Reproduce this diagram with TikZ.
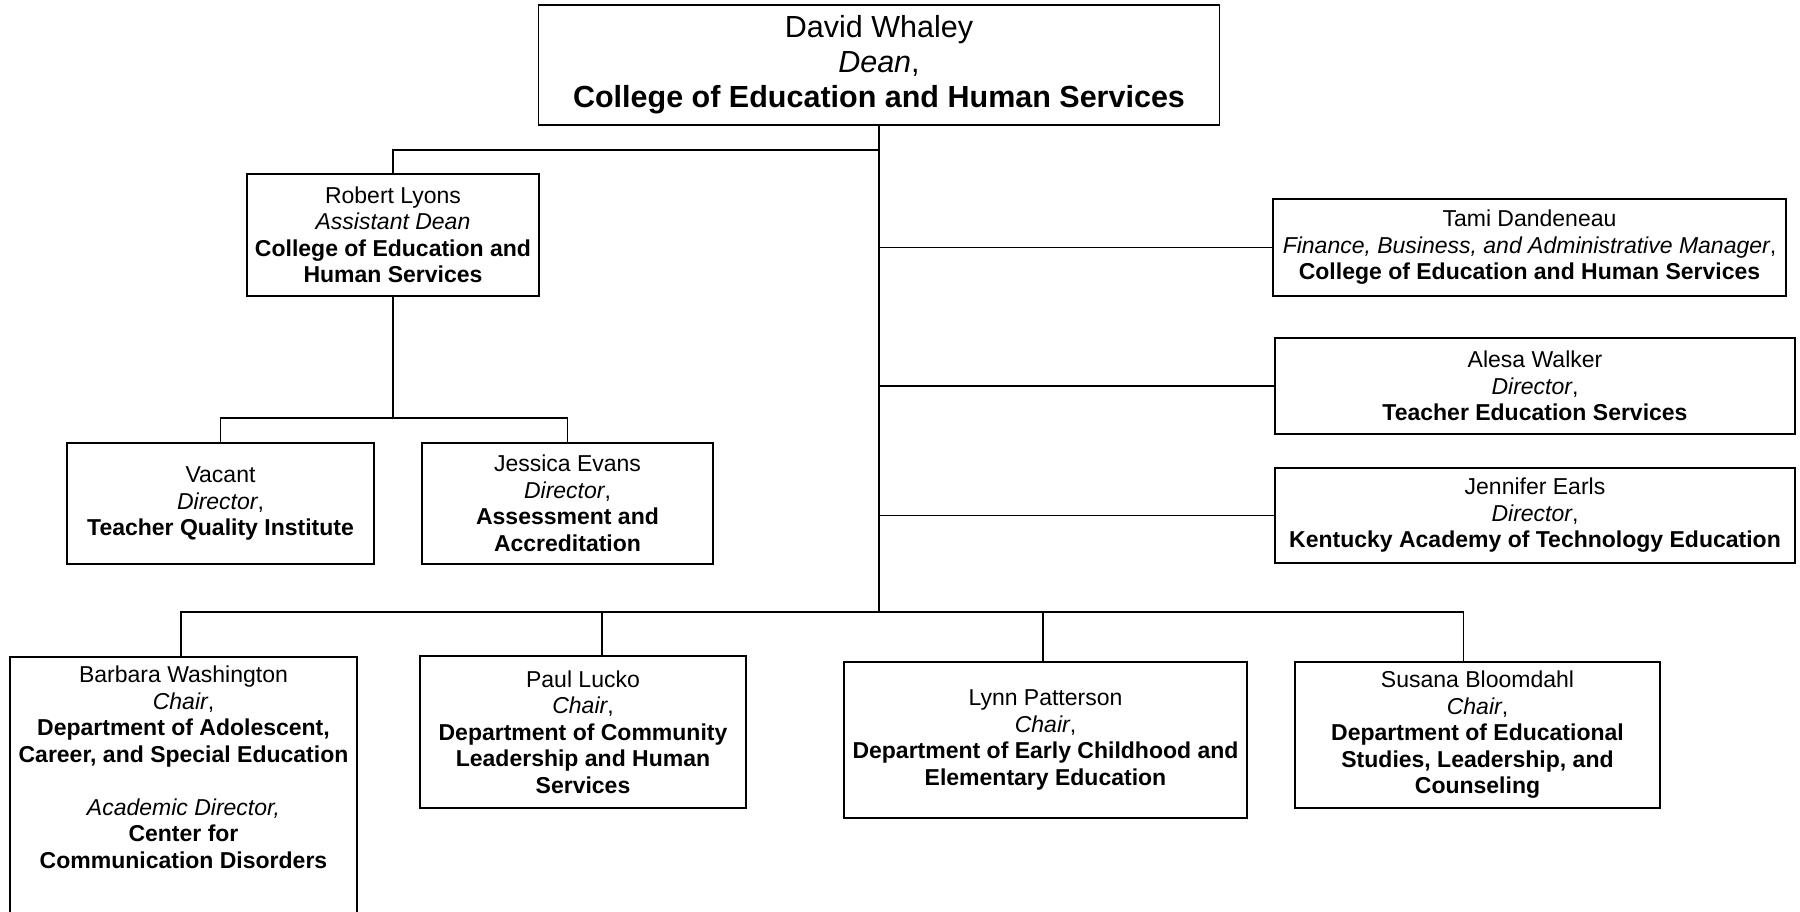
\documentclass[tikz,border=0pt]{standalone}
\usepackage{fontspec}
\setmainfont{Liberation Sans}
\begin{document}
\begin{tikzpicture}[x=1pt,y=-1pt,
  box/.style={draw, line width=1.4pt, inner sep=0pt, align=center,
    font=\fontsize{23}{26.5}\selectfont},
  deanbox/.style={box, font=\fontsize{30.5}{35}\selectfont},
  conn/.style={line width=1.5pt},
  trunk/.style={line width=2.6pt}]
\useasboundingbox (0,0) rectangle (1800,912);

% Nodes
\node[deanbox, minimum width=681pt, minimum height=120pt] (dean) at (879,65)
  {David Whaley\\\textit{Dean},\\\textbf{College of Education and Human Services}};

\node[box, minimum width=292pt, minimum height=122pt] (robert) at (393,235)
  {Robert Lyons\\\textit{Assistant Dean}\\\textbf{College of Education and}\\\textbf{Human Services}};

\node[box, minimum width=307pt, minimum height=121pt] (vacant) at (220.5,503.5)
  {Vacant\\\textit{Director},\\\textbf{Teacher Quality Institute}};

\node[box, minimum width=291pt, minimum height=121pt] (jessica) at (567.5,503.5)
  {Jessica Evans\\\textit{Director},\\\textbf{Assessment and}\\\textbf{Accreditation}};

\node[box, minimum width=513pt, minimum height=97pt] (tami) at (1529.5,247.5)
  {Tami Dandeneau\\\textit{Finance, Business, and Administrative Manager},\\\textbf{College of Education and Human Services}};

\node[box, minimum width=520pt, minimum height=96pt] (alesa) at (1535,386)
  {Alesa Walker\\\textit{Director},\\\textbf{Teacher Education Services}};

\node[box, minimum width=520pt, minimum height=95pt] (jennifer) at (1535,515.5)
  {Jennifer Earls\\\textit{Director},\\\textbf{Kentucky Academy of Technology Education}};

\node[box] (bw) at (183.5,790.5)
  {\parbox[c][267pt][t]{347pt}{\centering\vspace*{9pt}Barbara Washington\\\textit{Chair},\\\textbf{Department of Adolescent,}\\\textbf{Career, and Special Education}\\[26.5pt]\textit{Academic Director,}\\\textbf{Center for}\\\textbf{Communication Disorders}}};

\node[box, minimum width=326pt, minimum height=152pt] (paul) at (583,732)
  {Paul Lucko\\\textit{Chair},\\\textbf{Department of Community}\\\textbf{Leadership and Human}\\\textbf{Services}};

\node[box, minimum width=403pt, minimum height=156pt] (lynn) at (1045.5,740)
  {Lynn Patterson\\\textit{Chair},\\\textbf{Department of Early Childhood and}\\\textbf{Elementary Education}};

\node[box, minimum width=365pt, minimum height=146pt] (susana) at (1477.5,735)
  {Susana Bloomdahl\\\textit{Chair},\\\textbf{Department of Educational}\\\textbf{Studies, Leadership, and}\\\textbf{Counseling}};

% Junction coordinates
\coordinate (tA) at (879,150);
\coordinate (tB) at (879,612);
\coordinate (rB) at (393,418);
\coordinate (bwIn) at ([xshift=-2.5pt]bw.north);
\coordinate (paulIn) at ([xshift=19pt]paul.north);
\coordinate (lynnIn) at ([xshift=-2.5pt]lynn.north);
\coordinate (susIn) at ([xshift=-14pt]susana.north);

% Connectors
\draw[trunk] (dean.south) -- (tB);
\draw[conn] (tA) -| (robert.north);
\draw[conn] (robert.south) -- (rB);
\draw[conn] (vacant.north) |- (rB) -| (jessica.north);
\draw[conn] (tami.west -| tA) -- (tami.west);
\draw[conn] (alesa.west -| tA) -- (alesa.west);
\draw[conn] (jennifer.west -| tA) -- (jennifer.west);
\draw[conn] (bwIn) |- (susIn |- tB) -- (susIn);
\draw[conn] (paulIn |- tB) -- (paulIn);
\draw[conn] (lynnIn |- tB) -- (lynnIn);
\end{tikzpicture}
\end{document}
